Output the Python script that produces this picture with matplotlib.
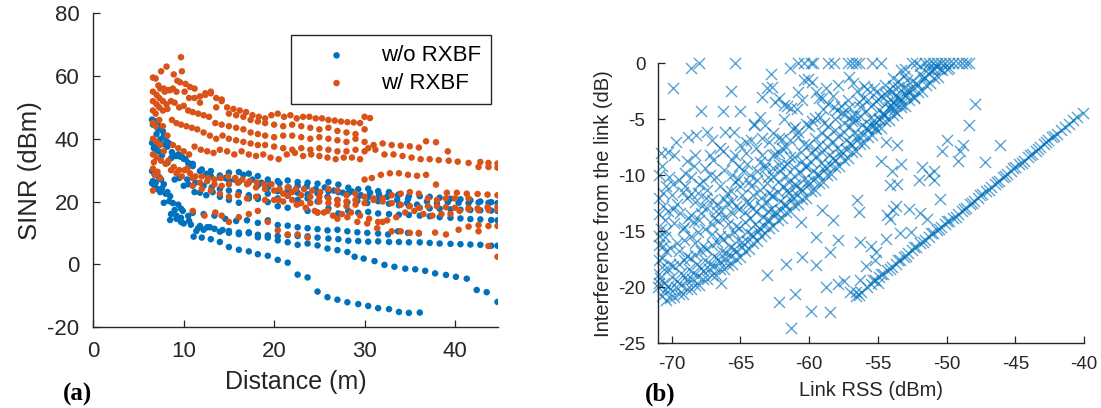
import numpy as np
import matplotlib
matplotlib.use("Agg")
import matplotlib.pyplot as plt

plt.rcParams['font.family'] = ['Liberation Sans', 'DejaVu Sans']
plt.rcParams['axes.unicode_minus'] = False

BLUE = '#0072BD'
ORANGE = '#D95319'
AXC = '#262626'

# ---------------- (a) SINR vs distance ----------------
# each block of pairs is one link track (distance m, SINR dB)
sinr_wo = [
    # track 1
    (6.5, 46.1), (6.8, 45.6), (7.1, 44.9), (7.4, 43.5), (7.7, 42.4), (7.8, 40.8), (8.1, 39.2), (8.4, 38.5),
    (8.7, 35.7), (9.2, 34.5), (9.6, 34.3), (10.0, 33.6), (10.5, 32.3), (11.0, 32.0), (11.8, 29.7), (12.5, 28.8),
    (13.0, 29.7), (14.0, 28.3), (15.0, 29.2), (16.1, 29.4), (17.2, 28.9), (18.2, 28.1), (19.3, 27.0), (20.4, 26.5),
    (21.5, 26.7), (22.6, 26.2), (23.7, 26.0), (24.8, 25.7), (26.0, 26.2), (27.1, 25.4), (28.2, 24.4), (29.3, 23.9),
    (30.4, 24.1), (31.5, 23.3), (32.7, 23.0), (33.8, 22.3), (34.9, 21.7), (36.1, 21.7), (37.2, 21.5), (38.3, 21.2),
    (39.5, 20.9), (40.6, 20.7), (41.7, 20.4), (42.8, 20.0), (44.0, 19.8), (44.7, 19.5),
    # track 2
    (6.5, 38.7), (6.8, 37.6), (7.2, 36.0), (7.6, 34.7), (8.2, 32.3), (8.6, 33.8), (9.0, 34.5), (9.4, 35.0),
    (9.8, 34.2), (10.2, 33.5), (10.6, 31.5), (11.0, 31.3), (12.0, 30.2), (13.0, 28.1), (14.0, 27.6), (15.0, 26.5),
    (16.1, 26.2), (17.2, 26.0), (18.2, 25.2), (19.3, 24.4), (20.4, 23.3), (21.5, 23.6), (22.6, 22.8), (23.7, 22.3),
    (24.8, 22.6), (26.0, 23.3), (27.1, 23.0), (28.2, 22.6), (29.3, 21.7), (30.4, 21.5), (31.5, 20.1), (32.7, 19.3),
    (33.8, 18.8), (34.9, 18.6), (36.1, 18.0), (37.2, 17.8), (38.3, 17.7), (39.5, 17.5), (40.6, 17.4), (41.7, 17.3),
    (42.8, 17.2), (44.0, 17.1), (44.7, 17.0),
    # track 3
    (6.5, 29.7), (6.8, 28.6), (7.2, 28.1), (7.5, 27.0), (7.8, 25.5), (8.2, 23.0), (8.5, 21.7), (9.0, 27.0),
    (9.5, 27.5), (10.0, 25.0), (10.5, 25.5), (11.2, 23.0), (11.8, 22.8), (12.5, 22.0), (13.2, 23.0), (14.0, 21.5),
    (15.0, 20.5), (16.1, 19.6), (17.2, 21.0), (18.2, 20.8), (19.3, 19.8), (20.4, 18.5), (21.5, 18.0), (22.6, 19.2),
    (23.7, 17.0), (24.8, 16.5), (26.0, 17.8), (27.1, 16.2), (28.2, 17.0), (29.3, 16.4), (30.4, 16.7), (31.5, 16.2),
    (32.7, 16.0), (33.8, 15.8), (34.9, 15.7), (36.1, 15.5), (37.2, 15.3), (38.3, 15.0), (39.5, 14.8), (40.6, 14.6),
    (41.7, 14.4), (42.8, 14.3), (44.0, 14.1), (44.7, 14.0),
    # track 4
    (6.5, 25.8), (6.8, 25.0), (7.1, 24.0), (7.4, 23.0), (7.8, 19.6), (8.4, 20.1), (9.0, 17.3), (9.7, 17.7),
    (9.7, 14.8), (10.5, 15.4), (11.0, 16.4), (11.8, 12.2), (12.6, 11.8), (13.4, 11.3), (14.3, 10.9), (15.0, 10.6),
    (16.1, 10.1), (17.2, 9.9), (18.2, 9.4), (19.3, 9.2), (20.4, 9.0), (21.5, 9.3), (22.6, 9.0), (23.7, 8.9),
    (24.8, 8.5), (26.0, 8.2), (27.1, 8.0), (28.2, 7.5), (29.3, 7.4), (30.4, 7.2), (31.5, 7.3), (32.7, 7.1),
    (33.8, 7.1), (34.9, 7.0), (36.1, 7.0), (37.2, 6.8), (38.3, 6.6), (39.5, 6.5), (40.6, 6.4), (41.7, 6.3),
    (42.8, 6.2), (44.0, 5.9), (44.7, 5.9),
    # track 5
    (8.5, 14.1), (9.2, 15.5), (10.0, 13.0), (11.1, 8.8), (12.0, 8.5), (13.0, 8.0), (14.0, 7.1), (15.0, 5.5),
    (16.1, 4.6), (17.2, 4.1), (18.2, 3.2), (19.3, 2.7), (20.4, 1.4), (21.5, 0.5), (22.6, -3.3), (23.7, -4.2),
    (24.8, -8.7), (25.9, -10.5), (27.0, -11.3), (28.1, -12.1), (29.3, -12.7), (30.4, -13.3), (31.5, -14.0),
    (32.7, -14.3), (33.8, -15.2), (34.9, -15.5), (36.1, -15.4),
    # track 6
    (11.6, 11.5), (12.9, 11.8), (14.0, 10.4), (15.0, 10.0), (16.1, 9.6), (17.2, 10.2), (18.2, 8.6), (19.3, 8.5),
    (20.4, 7.6), (21.5, 7.0), (22.6, 6.2), (23.7, 6.6), (24.8, 6.0), (25.9, 5.0), (27.0, 4.5), (28.1, 3.9),
    (28.9, 2.4), (29.9, 1.8), (31.1, 1.0), (32.2, -0.2), (33.3, -0.8), (34.5, -1.4), (35.6, -1.6), (36.7, -2.1),
    (37.8, -2.9), (39.0, -3.4), (40.1, -4.0), (41.3, -4.6), (42.4, -8.2), (43.5, -8.9), (44.7, -12.0),
    # track 7
    (12.2, 16.0), (13.4, 15.5), (14.6, 14.5), (15.8, 13.8), (17.0, 14.0), (18.2, 13.2), (19.3, 14.0), (20.4, 12.5),
    (21.5, 12.3), (22.6, 11.8), (23.7, 11.5), (24.8, 11.2), (25.9, 10.8), (27.0, 11.0), (28.1, 10.5), (29.2, 10.2),
    (30.3, 10.0), (31.5, 9.8), (32.6, 9.5), (33.7, 10.5), (34.8, 10.0), (36.0, 9.8),
    # track 8
    (10.4, 27.0), (11.3, 26.0), (12.2, 25.0), (13.1, 24.5), (14.0, 24.0), (15.0, 23.5), (16.1, 23.0), (17.2, 22.0),
    (18.2, 21.5), (19.3, 22.5), (20.4, 21.0), (21.5, 21.8), (22.6, 20.5), (23.7, 21.0), (24.8, 20.0), (25.9, 21.5),
    (27.0, 20.5), (28.1, 19.8), (29.2, 20.2), (30.3, 19.5), (31.4, 20.8), (32.5, 21.5), (33.6, 20.5), (34.7, 19.5),
    (35.8, 19.0), (36.9, 20.0), (38.0, 19.5), (39.2, 19.8), (40.4, 19.6), (41.5, 19.5), (42.6, 19.7), (43.7, 19.6),
    # track 9
    (14.6, 27.5), (15.6, 27.0), (16.6, 28.5), (17.6, 27.0), (18.6, 26.0), (19.6, 25.5), (20.6, 25.8), (21.6, 24.5),
    (22.6, 25.0), (23.6, 24.8), (24.6, 24.0), (25.6, 24.5), (26.6, 23.5), (27.6, 22.8), (28.6, 23.2), (29.6, 22.0),
    (30.6, 22.8), (31.6, 22.3), (32.6, 21.8), (33.7, 22.0), (34.8, 20.8),
    # near the AP
    (6.6, 44.5), (6.9, 45.2), (7.2, 43.0), (7.0, 41.5), (7.4, 39.8), (7.9, 38.2), (8.2, 37.5), (6.7, 37.0),
    (7.0, 36.5), (6.6, 26.5), (6.9, 26.0), (7.3, 27.5), (7.6, 24.2), (8.0, 22.5), (8.8, 19.5), (9.4, 19.0),
    (9.9, 17.0), (8.6, 16.0), (9.2, 14.5), (9.7, 13.5), (10.6, 13.8), (10.8, 12.6), (11.4, 10.6), (12.2, 11.0),
]

sinr_w = [
    # track 1
    (6.6, 59.5), (6.9, 59.2), (7.2, 57.0), (7.5, 61.5), (7.8, 56.0), (8.1, 63.0), (8.5, 55.5), (8.9, 60.5),
    (9.3, 58.5), (9.7, 66.0), (9.8, 61.5), (10.2, 57.5), (10.7, 56.5), (11.2, 56.0), (11.8, 53.5), (12.4, 54.5),
    (13.0, 55.0), (13.6, 53.0), (14.2, 52.5), (14.8, 50.0), (15.5, 49.5), (16.2, 49.0), (16.9, 48.5), (17.6, 47.5),
    (18.3, 47.0), (19.0, 46.5), (19.7, 47.5), (20.4, 48.0), (21.1, 47.0), (21.8, 47.5), (22.5, 46.5), (23.2, 47.0),
    (23.9, 47.0), (24.6, 46.5), (25.3, 46.5), (26.0, 46.0), (26.7, 45.8), (27.4, 45.5), (28.1, 45.3), (28.8, 45.2),
    (29.5, 45.0), (30.0, 47.0), (30.6, 46.6),
    # track 2
    (6.6, 55.0), (7.0, 54.0), (7.4, 56.0), (7.9, 55.0), (8.3, 55.5), (8.8, 56.0), (9.2, 55.0), (9.6, 58.0),
    (10.1, 55.0), (10.6, 53.0), (11.2, 53.0), (11.8, 51.5), (12.4, 54.0), (13.0, 54.5), (13.6, 50.0), (14.2, 52.0),
    (15.0, 48.0), (15.8, 47.5), (16.6, 47.0), (17.4, 46.0), (18.2, 45.5), (19.0, 45.0), (20.0, 44.5), (21.0, 44.0),
    (22.0, 44.5), (23.0, 44.0), (24.0, 43.5), (25.0, 43.0), (26.0, 43.5), (27.0, 42.5), (28.0, 42.0), (29.0, 41.5),
    (30.0, 43.0),
    # track 3
    (6.6, 52.0), (7.0, 51.0), (7.3, 53.0), (7.7, 52.0), (8.1, 51.0), (8.6, 52.0), (9.0, 51.5), (9.5, 50.0),
    (10.0, 50.5), (10.5, 49.0), (11.0, 48.5), (11.6, 48.0), (12.2, 47.5), (12.8, 47.0), (13.5, 45.0), (14.2, 44.5),
    (15.0, 44.0), (15.8, 43.5), (16.6, 43.0), (17.4, 42.0), (18.2, 41.5), (19.0, 41.0), (20.0, 40.5), (21.0, 41.0),
    (22.0, 41.0), (23.0, 40.5), (24.0, 40.0), (25.0, 40.5), (26.0, 40.0), (27.0, 39.5), (28.0, 39.0), (29.0, 40.0),
    (30.0, 39.0),
    # track 4
    (6.6, 49.0), (6.9, 48.0), (7.3, 50.0), (7.7, 49.0), (8.2, 49.5), (8.7, 46.0), (9.2, 45.0), (9.7, 44.5),
    (10.3, 44.0), (10.9, 43.5), (11.5, 43.0), (12.2, 42.0), (12.9, 41.0), (13.6, 40.0), (14.3, 41.0), (15.0, 40.0),
    (15.8, 39.5), (16.6, 39.0), (17.4, 38.5), (18.2, 38.0), (19.0, 38.0), (20.0, 37.5), (21.0, 37.0), (22.0, 36.5),
    (23.0, 37.0), (24.0, 36.5), (25.0, 37.0), (26.0, 36.5), (27.0, 36.0), (28.0, 36.0), (29.0, 36.5), (30.0, 36.0),
    (31.0, 38.0), (32.0, 38.5), (33.0, 38.0), (34.0, 37.8), (35.0, 37.6), (36.0, 37.2), (36.8, 39.2), (37.9, 38.9),
    (39.2, 36.0), (40.3, 32.7), (41.5, 32.3), (42.8, 32.6), (43.7, 32.3), (44.7, 32.1),
    # track 5
    (6.6, 45.0), (6.9, 44.0), (7.3, 46.0), (7.7, 44.0), (8.2, 41.0), (8.8, 38.0), (9.4, 37.0), (10.0, 36.0),
    (10.6, 35.0), (11.2, 37.5), (11.9, 36.5), (12.6, 36.0), (13.3, 35.5), (14.0, 36.5), (14.8, 36.0), (15.6, 35.0),
    (16.4, 36.0), (17.2, 35.0), (18.0, 34.5), (18.8, 35.0), (19.6, 34.0), (20.5, 33.5), (21.4, 35.0), (22.3, 35.5),
    (23.2, 34.5), (24.1, 35.0), (25.0, 34.5), (25.9, 34.0), (26.8, 33.5), (27.7, 34.0), (28.6, 34.0), (29.5, 33.5),
    (30.4, 37.0), (31.2, 36.5), (32.2, 35.0), (33.2, 35.0), (34.2, 34.5), (35.2, 34.0), (36.2, 33.5), (37.2, 33.5),
    (38.2, 33.2), (39.3, 33.0), (42.6, 31.0), (43.7, 31.0), (44.7, 30.8),
    # track 6
    (6.6, 40.0), (7.0, 39.0), (7.4, 38.0), (7.8, 36.0), (8.3, 33.0), (8.9, 31.0), (9.5, 30.0), (10.1, 30.0),
    (10.7, 29.0), (11.3, 28.0), (12.0, 28.0), (12.7, 27.5), (13.4, 27.0), (14.1, 27.5), (14.9, 28.0), (15.7, 27.5),
    (16.5, 27.0), (17.3, 26.5), (18.1, 26.0), (18.9, 25.5), (19.7, 25.5), (20.6, 24.0), (21.5, 24.5), (22.4, 24.0),
    (23.3, 24.0), (24.2, 23.5), (25.1, 23.0), (26.0, 24.0), (27.0, 23.5), (28.0, 22.0), (29.0, 22.5), (30.0, 27.0),
    (30.8, 27.5), (31.8, 28.5), (32.8, 29.0), (33.8, 29.0), (34.8, 28.5), (35.8, 28.2), (36.8, 28.5), (37.9, 25.4),
    (39.1, 22.8), (40.2, 22.8), (41.3, 22.5), (42.5, 22.4), (43.6, 22.2), (44.7, 22.0),
    # track 7
    (6.6, 35.0), (7.0, 34.0), (7.5, 33.0), (8.0, 32.0), (8.6, 30.0), (9.2, 29.0), (9.8, 28.0), (10.4, 30.5),
    (11.0, 27.5), (11.8, 26.0), (12.6, 26.5), (13.4, 25.5), (14.2, 25.0), (15.0, 25.5), (16.0, 26.0), (17.0, 25.5),
    (18.0, 24.5), (19.0, 24.0), (20.0, 23.5), (21.0, 22.5), (22.0, 23.0), (23.0, 22.0), (24.0, 21.5), (25.0, 21.5),
    (26.0, 21.0), (27.0, 20.5), (28.0, 20.0), (29.0, 20.5), (30.0, 21.5), (31.0, 21.0), (32.0, 20.0), (33.0, 19.5),
    (34.0, 19.0), (35.0, 18.5), (36.0, 18.0), (37.0, 18.5), (38.0, 18.5), (39.0, 18.2), (40.0, 18.0), (41.5, 18.0),
    (42.5, 17.8), (43.6, 18.2), (44.7, 18.3),
    # track 8
    (11.0, 25.0), (12.0, 24.0), (13.0, 23.5), (14.0, 22.5), (15.0, 21.5), (16.0, 22.0), (17.0, 21.0), (18.0, 21.5),
    (19.0, 20.5), (20.0, 20.5), (21.0, 20.0), (22.0, 20.5), (23.0, 19.5), (24.0, 19.5), (25.0, 20.0), (26.0, 19.5),
    (27.0, 19.0), (28.0, 18.5), (29.0, 19.0), (30.0, 19.5), (31.0, 20.5), (32.0, 21.0), (33.0, 22.0), (34.0, 22.5),
    (35.0, 23.0), (36.0, 22.5), (37.0, 21.0), (38.0, 20.5), (39.0, 21.0), (40.0, 21.0), (41.5, 21.0),
    # track 9
    (11.0, 17.0), (12.3, 15.5), (13.5, 16.5), (14.2, 15.5), (15.0, 13.5), (16.1, 15.0), (17.2, 16.0), (18.2, 17.0),
    (19.3, 13.5), (20.4, 10.8), (21.5, 9.5), (22.6, 9.5), (23.7, 8.5), (24.8, 16.5), (25.9, 17.0), (27.0, 14.5),
    (28.1, 15.0), (29.2, 13.5), (30.3, 13.0), (31.4, 11.5), (32.0, 13.5), (33.0, 10.5), (34.0, 10.5), (35.0, 10.0),
    (36.0, 10.0), (37.8, 10.1), (39.0, 9.5), (40.4, 11.0), (41.5, 12.0), (42.6, 12.5), (43.7, 12.2), (44.7, 12.2),
    # track 10
    (20.5, 20.5), (21.5, 22.0), (22.5, 19.0), (23.5, 18.0), (24.5, 17.0), (25.5, 16.5), (26.5, 15.5), (27.5, 16.0),
    (28.5, 16.5), (29.5, 15.5), (30.5, 14.5), (31.5, 13.5), (32.5, 14.0), (33.5, 15.0), (34.5, 16.5), (35.5, 17.0),
    (36.5, 16.0), (37.5, 15.5), (38.5, 16.0), (39.5, 16.0), (40.5, 17.0), (41.5, 17.5), (42.6, 17.2), (43.7, 17.3),
    (44.7, 17.5), (42.6, 10.5), (43.7, 5.8), (44.7, 2.4),
    # near the AP
    (6.6, 23.5), (6.8, 28.5), (7.1, 29.5), (7.4, 27.5), (6.6, 30.5), (6.7, 32.5),
]

# ---------------- (b) interference vs link RSS ----------------
# (link RSS dBm, interference dB)
band_pts = [
    # lower edge of the main band
    (-71.0, -20.0), (-70.7, -20.8), (-70.4, -21.2), (-70.1, -21.0), (-69.8, -20.9), (-69.5, -20.6), (-69.2, -20.6),
    (-68.9, -20.2), (-68.6, -20.2), (-68.3, -19.8), (-68.0, -19.8), (-67.7, -19.3), (-67.4, -19.3), (-67.1, -18.9),
    (-66.8, -18.9), (-66.5, -18.4), (-66.2, -18.4), (-65.9, -18.0), (-65.6, -17.9), (-65.3, -17.5), (-65.0, -17.3),
    (-64.7, -16.8), (-64.4, -16.6), (-64.1, -16.1), (-63.8, -15.9), (-63.5, -15.4), (-63.2, -15.2), (-62.9, -14.7),
    (-62.6, -14.5), (-62.3, -14.0), (-62.0, -13.8), (-61.7, -13.3), (-61.4, -13.2), (-61.1, -12.7), (-60.8, -12.6),
    (-60.5, -12.1), (-60.2, -12.0), (-59.9, -11.4), (-59.6, -11.3), (-59.3, -10.7), (-59.0, -10.6), (-58.7, -10.0),
    (-58.4, -9.9), (-58.1, -9.3), (-57.8, -9.2), (-57.5, -8.6), (-57.2, -8.5), (-56.9, -7.9), (-56.6, -7.8),
    (-56.3, -7.2), (-56.0, -7.1), (-55.7, -6.6), (-55.4, -6.4), (-55.1, -5.9), (-54.8, -5.8), (-54.5, -5.2),
    (-54.2, -5.1), (-53.9, -4.6), (-53.6, -4.4), (-53.3, -3.9), (-53.0, -3.8), (-52.7, -3.3), (-52.4, -3.1),
    (-52.1, -2.6), (-51.8, -2.5), (-51.5, -1.9), (-51.2, -1.8), (-50.9, -1.3), (-50.6, -1.2), (-50.3, -0.6),
    (-50.0, -0.5),
    # body of the band
    (-70.9, -19.6), (-70.5, -20.3), (-70.1, -20.2), (-69.7, -20.0), (-69.3, -19.8), (-68.9, -19.5), (-68.5, -19.3),
    (-68.1, -19.0), (-67.7, -18.6), (-67.3, -18.4), (-66.9, -18.1), (-66.5, -17.8), (-66.1, -17.5), (-65.7, -17.2),
    (-65.3, -16.8), (-64.9, -16.4), (-64.5, -15.9), (-64.1, -15.4), (-63.7, -15.0), (-63.3, -14.5), (-62.9, -14.0),
    (-62.5, -13.6), (-62.1, -13.1), (-61.7, -12.7), (-61.3, -12.2), (-60.9, -11.8), (-60.5, -11.3), (-60.1, -10.9),
    (-59.7, -10.4), (-59.3, -10.0), (-58.9, -9.5), (-58.5, -9.1), (-58.1, -8.6), (-57.7, -8.2), (-57.3, -7.7),
    (-56.9, -7.3), (-56.5, -6.8), (-56.1, -6.4), (-55.7, -5.9), (-55.3, -5.5), (-54.9, -5.0), (-54.5, -4.6),
    (-54.1, -4.1), (-53.7, -3.7), (-53.3, -3.2), (-52.9, -2.8), (-52.5, -2.3), (-52.1, -1.9), (-51.7, -1.4),
    (-51.3, -1.0), (-50.9, -0.5),
    (-70.85, -19.2), (-70.55, -19.6), (-70.25, -19.9), (-69.95, -19.1), (-69.65, -19.5), (-69.35, -18.7),
    (-69.05, -19.1), (-68.75, -18.4), (-68.45, -18.7), (-68.15, -17.9), (-67.85, -18.3), (-67.55, -17.6),
    (-67.25, -17.9), (-66.95, -17.2), (-66.65, -17.5), (-66.35, -16.8), (-66.05, -17.0), (-65.75, -16.4),
    (-65.45, -16.6), (-65.15, -15.8), (-64.85, -16.0), (-64.55, -15.1), (-64.25, -15.3), (-63.95, -14.4),
    (-63.65, -14.7), (-63.35, -13.7), (-63.05, -14.0), (-62.75, -13.0), (-62.45, -13.3), (-62.15, -12.3),
    (-61.85, -12.6), (-61.55, -11.6), (-61.25, -11.9), (-60.95, -11.0), (-60.65, -11.2), (-60.35, -10.3),
    (-60.05, -10.5), (-59.75, -9.6), (-59.45, -9.9), (-59.15, -8.9), (-58.85, -9.2), (-58.55, -8.2),
    (-58.25, -8.5), (-57.95, -7.6), (-57.65, -7.8), (-57.35, -6.9), (-57.05, -7.1), (-56.75, -6.2),
    (-56.45, -6.4), (-56.15, -5.5), (-55.85, -5.8), (-55.55, -4.9), (-55.25, -5.1), (-54.95, -4.2),
    (-54.65, -4.4), (-54.35, -3.5), (-54.05, -3.7), (-53.75, -2.9), (-53.45, -3.1), (-53.15, -2.2),
    (-52.85, -2.4), (-52.55, -1.6), (-52.25, -1.8), (-51.95, -1.0), (-51.65, -1.2), (-51.35, -0.5),
    (-51.05, -0.6), (-50.75, -0.2),
    (-70.7, -18.2), (-70.3, -18.4), (-69.9, -18.1), (-69.5, -17.9), (-69.1, -17.6), (-68.7, -17.4), (-68.3, -17.1),
    (-67.9, -16.8), (-67.5, -16.6), (-67.1, -16.2), (-66.7, -16.0), (-66.3, -15.7), (-65.9, -15.4), (-65.5, -15.1),
    (-65.1, -14.7), (-64.7, -14.2), (-64.3, -13.8), (-63.9, -13.3), (-63.5, -12.8), (-63.1, -12.4), (-62.7, -11.9),
    (-62.3, -11.5), (-61.9, -11.0), (-61.5, -10.6), (-61.1, -10.1), (-60.7, -9.7), (-60.3, -9.2), (-59.9, -8.8),
    (-59.5, -8.3), (-59.1, -7.9), (-58.7, -7.4), (-58.3, -7.0), (-57.9, -6.5), (-57.5, -6.1), (-57.1, -5.6),
    (-56.7, -5.2), (-56.3, -4.7), (-55.9, -4.3), (-55.5, -3.8), (-55.1, -3.4), (-54.7, -2.9), (-54.3, -2.5),
    (-53.9, -2.0), (-53.5, -1.6), (-53.1, -1.1),
    (-70.7, -17.4), (-70.1, -17.9), (-69.5, -16.8), (-68.9, -17.2), (-68.3, -16.1), (-67.7, -16.3), (-67.1, -15.3),
    (-66.5, -15.4), (-65.9, -14.4), (-65.3, -14.5), (-64.7, -13.3), (-64.1, -12.9), (-63.5, -12.0), (-62.9, -11.6),
    (-62.3, -10.6), (-61.7, -10.1), (-61.1, -9.3), (-60.5, -8.7), (-59.9, -8.0), (-59.3, -7.3), (-58.7, -6.6),
    (-58.1, -6.0), (-57.5, -5.3), (-56.9, -4.7), (-56.3, -3.9), (-55.7, -3.3), (-55.1, -2.6), (-54.5, -1.9),
    (-53.9, -1.3), (-53.3, -0.6),
    (-70.6, -16.3), (-70.1, -16.5), (-69.6, -16.1), (-69.1, -15.8), (-68.6, -15.4), (-68.1, -15.1), (-67.6, -14.8),
    (-67.1, -14.4), (-66.6, -14.1), (-66.1, -13.7), (-65.6, -13.4), (-65.1, -13.0), (-64.6, -12.4), (-64.1, -11.8),
    (-63.6, -11.3), (-63.1, -10.7), (-62.6, -10.1), (-62.1, -9.6), (-61.6, -9.0), (-61.1, -8.4), (-60.6, -7.9),
    (-60.1, -7.3), (-59.6, -6.7), (-59.1, -6.2), (-58.6, -5.6), (-58.1, -5.0), (-57.6, -4.4), (-57.1, -3.9),
    (-70.4, -15.0), (-69.8, -14.3), (-69.2, -14.8), (-68.6, -13.6), (-68.0, -14.0), (-67.4, -12.9), (-66.8, -13.2),
    (-66.2, -12.1), (-65.6, -12.3), (-65.0, -11.0), (-64.4, -10.6), (-63.8, -9.6), (-63.2, -9.1), (-62.6, -8.2),
    (-62.0, -7.6), (-61.4, -6.9), (-60.8, -6.1), (-60.2, -5.4), (-59.6, -4.9), (-59.0, -4.1),
    # knot near -54 dBm
    (-55.6, -5.5), (-55.2, -5.8), (-54.9, -5.0), (-54.6, -4.6), (-54.2, -3.9), (-53.9, -3.5), (-53.6, -3.0),
    (-53.3, -3.6), (-53.0, -2.8), (-52.7, -2.4), (-52.4, -3.0), (-54.4, -2.8), (-54.0, -2.5), (-53.5, -2.1),
    (-55.0, -3.2), (-55.3, -2.2), (-56.0, -2.0), (-56.4, -3.5), (-53.8, -4.2), (-52.9, -1.5),
]

line_pts = [
    (-56.6, -20.8), (-56.2, -20.4), (-55.8, -20.0), (-55.5, -19.7), (-55.2, -19.4), (-54.9, -19.1), (-54.6, -18.8),
    (-54.3, -18.5), (-54.0, -18.2), (-53.7, -17.9), (-53.4, -17.6), (-53.1, -17.3), (-52.8, -17.0), (-52.5, -16.7),
    (-52.2, -16.4), (-51.9, -16.1), (-51.6, -15.8), (-51.3, -15.5), (-51.0, -15.2), (-50.7, -14.9), (-50.4, -14.6),
    (-50.1, -14.4), (-49.8, -14.1), (-49.5, -13.8), (-49.2, -13.5), (-48.9, -13.2), (-48.6, -12.9), (-48.3, -12.6),
    (-48.0, -12.3), (-47.7, -12.0), (-47.4, -11.7), (-47.1, -11.4), (-46.8, -11.1), (-46.5, -10.8), (-46.2, -10.5),
    (-45.9, -10.2), (-45.6, -9.9), (-45.3, -9.6), (-45.0, -9.3), (-44.7, -9.0), (-44.4, -8.7), (-44.1, -8.4),
    (-43.8, -8.1), (-43.5, -7.8), (-43.2, -7.5), (-42.9, -7.2), (-42.6, -6.9), (-42.3, -6.6), (-42.0, -6.3),
    (-41.7, -6.0), (-41.4, -5.7), (-41.1, -5.4), (-40.8, -5.1), (-40.5, -4.8), (-40.1, -4.4),
    (-55.35, -19.4), (-55.0, -19.6), (-54.75, -18.8), (-54.1, -18.4), (-53.55, -17.6), (-52.95, -17.2),
    (-52.35, -16.4), (-51.75, -16.0), (-51.15, -15.2), (-50.55, -14.8), (-49.95, -14.1), (-49.35, -13.7),
    (-48.75, -13.0), (-48.15, -12.5), (-47.55, -11.8), (-46.95, -11.3), (-46.35, -10.6), (-45.75, -10.1),
    (-45.15, -9.4), (-44.55, -8.9), (-43.95, -8.2), (-43.35, -7.7), (-42.75, -7.0), (-42.15, -6.5),
]

spread_pts = [
    # top row and upper left
    (-68.0, 0.0), (-68.6, -0.4), (-65.4, 0.0), (-69.9, -2.2), (-65.7, -2.5), (-67.9, -4.3), (-66.3, -4.3),
    (-65.0, -4.3), (-69.7, -7.0), (-68.8, -6.6), (-68.2, -6.4), (-67.4, -6.1), (-67.1, -6.9), (-70.3, -7.9),
    (-69.8, -8.2), (-68.9, -8.7), (-68.3, -8.2), (-64.0, -5.5), (-62.8, -1.0), (-63.1, -2.2), (-61.4, -0.4),
    (-60.8, 0.0), (-60.4, 0.0), (-59.9, 0.0), (-59.7, 0.0), (-58.6, 0.0), (-58.2, 0.0), (-57.2, 0.0), (-56.9, 0.0),
    (-56.6, 0.0), (-56.4, 0.0), (-55.4, 0.0), (-54.8, 0.0), (-52.5, 0.0), (-52.2, 0.0), (-51.9, -0.2), (-51.6, 0.0),
    (-51.3, 0.0), (-51.0, 0.0), (-50.7, 0.0), (-50.4, 0.0), (-50.1, 0.0), (-49.8, 0.0), (-49.5, 0.0), (-49.2, 0.0),
    (-48.9, 0.0), (-48.6, 0.0), (-48.4, 0.0), (-53.0, -0.5), (-49.8, -0.4), (-50.5, -0.5),
    # cluster above the band
    (-62.7, -2.1), (-62.2, -3.1), (-61.8, -3.7), (-61.3, -4.0), (-60.8, -2.6), (-60.1, -1.4), (-59.3, -3.1),
    (-58.8, -2.2), (-58.2, -3.9), (-57.9, -1.9), (-57.2, -3.3), (-56.9, -5.2), (-59.8, -5.2), (-61.0, -5.7),
    (-62.2, -6.7), (-63.4, -6.7), (-64.6, -7.0), (-65.4, -8.2), (-66.1, -6.1), (-66.5, -7.6), (-67.2, -8.2),
    (-62.5, -3.5), (-61.6, -3.8), (-60.9, -4.1), (-60.5, -3.3), (-60.4, -1.5), (-59.8, -1.7), (-59.5, -2.6),
    (-59.1, -3.1), (-58.6, -3.6), (-58.3, -2.9), (-58.0, -4.2), (-57.7, -3.8), (-57.4, -4.5), (-57.1, -1.2),
    (-56.8, -1.8), (-56.5, -2.5), (-56.1, -3.1), (-55.8, -2.3), (-59.2, -4.8), (-60.0, -5.6), (-58.9, -5.3),
    (-63.4, -3.0), (-61.8, -5.0),
    # left side, above the band
    (-70.8, -8.0), (-70.2, -10.2), (-69.9, -10.8), (-70.6, -12.8), (-70.3, -13.2), (-69.9, -13.0), (-69.6, -12.6),
    (-70.8, -14.8), (-70.5, -15.5), (-70.9, -16.2), (-70.4, -16.8), (-69.2, -11.5), (-68.9, -12.0), (-68.6, -11.7),
    (-68.3, -12.4), (-68.8, -13.8), (-68.4, -14.2), (-69.1, -14.6), (-68.0, -10.8), (-67.7, -10.5), (-67.4, -11.3),
    (-67.1, -12.2), (-67.8, -12.8), (-66.8, -10.2), (-66.5, -11.0), (-66.2, -9.5), (-66.9, -13.8), (-66.0, -12.5),
    (-65.7, -11.4), (-65.4, -10.6), (-65.1, -9.2), (-65.6, -8.6), (-66.3, -7.8), (-67.0, -8.6), (-67.6, -9.4),
    (-68.4, -9.2), (-69.0, -9.8), (-70.9, -10.0), (-70.9, -13.5), (-70.6, -11.6),
    (-70.7, -9.2), (-70.4, -11.0), (-70.0, -11.8), (-69.5, -10.4), (-69.4, -13.4), (-69.0, -11.0), (-68.6, -10.2),
    (-68.1, -11.6), (-67.9, -13.4), (-67.5, -12.0), (-67.2, -10.0), (-66.7, -12.6), (-66.4, -13.2), (-66.0, -11.6),
    (-65.6, -10.0), (-65.3, -12.8), (-64.9, -11.8), (-64.5, -9.0), (-64.2, -11.0), (-63.8, -10.4), (-63.4, -8.2),
    (-63.0, -10.2), (-62.6, -9.4), (-62.2, -8.0), (-61.8, -9.2), (-70.95, -12.0), (-70.95, -15.4), (-70.95, -17.6),
    (-70.95, -18.8), (-70.5, -14.0),
    (-65.0, -7.3), (-64.6, -8.0), (-64.2, -6.9), (-63.9, -7.6), (-64.8, -9.6), (-64.3, -10.0), (-63.6, -8.8),
    (-63.2, -9.4), (-62.9, -7.0), (-62.5, -8.1), (-63.2, -5.5), (-62.6, -6.2), (-62.0, -6.8), (-61.7, -7.5),
    (-61.4, -8.4), (-62.2, -9.1), (-61.2, -5.9), (-60.8, -6.6), (-60.4, -7.2), (-65.5, -6.1), (-64.0, -5.4),
    (-63.6, -4.8), (-61.0, -10.8), (-61.6, -11.3), (-62.7, -11.8), (-60.2, -9.3), (-59.6, -7.7), (-65.2, -10.3),
    (-64.4, -12.5), (-63.0, -13.2),
    # between the two diagonals and below
    (-66.4, -19.6), (-59.1, -13.1), (-58.3, -14.0), (-60.6, -14.2), (-59.5, -15.5), (-57.9, -15.8), (-58.5, -16.9),
    (-60.5, -17.3), (-61.7, -17.9), (-59.5, -18.0), (-63.1, -18.9), (-58.8, -20.0), (-57.9, -19.7), (-57.5, -19.5),
    (-56.6, -20.4), (-61.0, -20.6), (-62.2, -21.3), (-59.9, -22.1), (-58.5, -22.2), (-61.3, -23.7),
    (-56.5, -12.2), (-56.4, -13.3), (-53.9, -13.1), (-54.1, -13.9), (-52.7, -13.0), (-51.9, -13.4), (-51.4, -13.9),
    (-50.5, -12.1), (-56.3, -16.0), (-55.5, -16.3), (-54.4, -15.7), (-53.4, -15.2), (-52.6, -15.1), (-55.1, -16.9),
    (-55.9, -18.1), (-55.2, -17.6), (-56.3, -19.4), (-57.0, -20.4), (-56.4, -20.7),
    (-47.9, -3.6), (-48.4, -5.5), (-50.0, -6.9), (-50.3, -7.8), (-48.8, -7.3), (-49.0, -7.8), (-49.2, -8.7),
    (-46.1, -7.3), (-47.2, -8.8), (-53.6, -7.3), (-54.4, -7.0), (-54.8, -8.7), (-54.0, -9.6), (-53.3, -9.0),
    (-52.0, -10.4), (-50.9, -9.6), (-50.9, -10.4), (-54.1, -10.9), (-53.6, -10.8), (-56.7, -4.6),
    (-51.8, -9.3), (-51.3, -10.0), (-53.7, -12.8), (-54.3, -13.6),
]


def main():
    fig = plt.figure(figsize=(11.01, 4.08), dpi=100)

    # ---- panel (a) ----
    ax1 = fig.add_axes([0.0847, 0.1985, 0.368, 0.769])
    bw = np.array(sinr_wo)
    bf = np.array(sinr_w)
    ax1.scatter(bw[:, 0], bw[:, 1], s=22, color=BLUE, edgecolors='none', label='w/o RXBF', zorder=3)
    ax1.scatter(bf[:, 0], bf[:, 1], s=22, color=ORANGE, edgecolors='none', label='w/ RXBF', zorder=3)
    ax1.set_xlim(0, 44.8)
    ax1.set_ylim(-20, 80)
    ax1.set_xticks([0, 10, 20, 30, 40])
    ax1.set_yticks([-20, 0, 20, 40, 60, 80])
    ax1.set_xlabel('Distance (m)', fontsize=18, color=AXC, labelpad=6)
    ax1.set_ylabel('SINR (dBm)', fontsize=18.5, color=AXC, labelpad=4)
    ax1.tick_params(direction='in', length=5, width=0.9, labelsize=16, colors=AXC, pad=10)
    leg = ax1.legend(loc='upper right', bbox_to_anchor=(0.982, 0.93), fontsize=16, frameon=True,
                     fancybox=False, edgecolor=AXC, framealpha=1, markerscale=1.0,
                     handlelength=3.2, handletextpad=0.4, borderpad=0.45, labelspacing=0.3,
                     borderaxespad=0)
    leg.get_frame().set_linewidth(1.0)

    # ---- panel (b) ----
    ax2 = fig.add_axes([0.5976, 0.1593, 0.387, 0.6856])
    pts = np.array(band_pts + line_pts + spread_pts)
    ax2.scatter(pts[:, 0], pts[:, 1], marker='x', s=64, color=BLUE, alpha=0.65, linewidths=1.0, clip_on=False)
    ax2.set_xlim(-71, -40)
    ax2.set_ylim(-25, 0)
    ax2.set_xticks([-70, -65, -60, -55, -50, -45, -40])
    ax2.set_yticks([-25, -20, -15, -10, -5, 0])
    ax2.set_xlabel('Link RSS (dBm)', fontsize=14.5, color=AXC, labelpad=6)
    ax2.set_ylabel('Interference from the link (dB)', fontsize=14.5, color=AXC, labelpad=4)
    ax2.tick_params(direction='in', length=5, width=0.9, labelsize=13.5, colors=AXC, pad=9)

    for ax in (ax1, ax2):
        ax.spines['top'].set_visible(False)
        ax.spines['right'].set_visible(False)
        for sp in ('left', 'bottom'):
            ax.spines[sp].set_color(AXC)
            ax.spines[sp].set_linewidth(1.0)

    fig.text(0.057, 0.018, '(a)', fontsize=18, fontweight='bold', family=['Liberation Serif', 'DejaVu Serif'])
    fig.text(0.586, 0.018, '(b)', fontsize=18, fontweight='bold', family=['Liberation Serif', 'DejaVu Serif'])

    fig.savefig('out.png', dpi=100)


if __name__ == "__main__":
    main()
